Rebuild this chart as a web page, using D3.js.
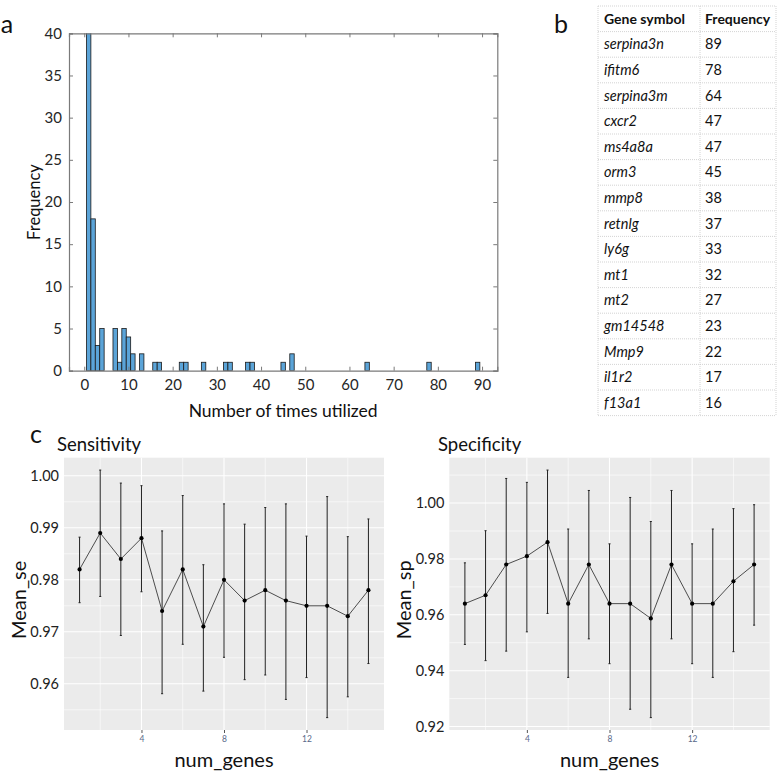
<!DOCTYPE html>
<html><head><meta charset="utf-8">
<script src="https://cdn.jsdelivr.net/npm/d3@7"></script>
<style>
html,body{margin:0;padding:0;background:#fff;}
svg text{font-family:Lato,"Open Sans",sans-serif;}
</style></head>
<body>
<svg id="fig" width="777" height="776"></svg>
<script>
// ---------- Panel a: histogram ----------
const histValues = [1,2,3,4,7,8,9,10,11,13,16,17,22,23,27,32,33,37,38,45,47,64,78,89];
const histCounts = [63,18,3,5,5,1,5,4,2,2,1,1,1,1,1,1,1,1,1,1,2,1,1,1];
const histXTicks = [0,10,20,30,40,50,60,70,80,90];
const histYTicks = [0,5,10,15,20,25,30,35,40];

// ---------- Panel b: table ----------
const geneSymbols = ["serpina3n","ifitm6","serpina3m","cxcr2","ms4a8a","orm3","mmp8","retnlg","ly6g","mt1","mt2","gm14548","Mmp9","il1r2","f13a1"];
const geneFreqs = [89,78,64,47,47,45,38,37,33,32,27,23,22,17,16];

// ---------- Panel c ----------
const numGenes = [1,2,3,4,5,6,7,8,9,10,11,12,13,14,15];
const meanSe = [0.982,0.989,0.984,0.988,0.974,0.982,0.971,0.980,0.976,0.978,0.976,0.975,0.975,0.973,0.978];
const seLow  = [0.9756,0.9768,0.9693,0.9777,0.9581,0.9676,0.9586,0.9651,0.9608,0.9617,0.9570,0.9612,0.9535,0.9575,0.9639];
const seHigh = [0.9882,1.0011,0.9986,0.9981,0.9894,0.9962,0.9829,0.9946,0.9907,0.9939,0.9946,0.9884,0.9960,0.9883,0.9917];
const meanSp = [0.964,0.967,0.978,0.981,0.986,0.964,0.978,0.964,0.964,0.9587,0.978,0.964,0.964,0.972,0.978];
const spLow  = [0.9494,0.9436,0.9470,0.9539,0.9605,0.9376,0.9514,0.9425,0.9262,0.9232,0.9514,0.9425,0.9376,0.9468,0.9563];
const spHigh = [0.9786,0.9901,1.0088,1.0074,1.0118,0.9907,1.0045,0.9854,1.0020,0.9934,1.0045,0.9854,0.9907,0.9980,0.9994];
const seYTicks = [0.96,0.97,0.98,0.99,1.00];
const spYTicks = [0.92,0.94,0.96,0.98,1.00];
const cXTicks = [4,8,12];

const svg = d3.select("#fig");
svg.append("rect").attr("width",777).attr("height",776).attr("fill","#fff");

// ===== Panel a =====
(function(){
  const L=69,R=497.3,T=33.3,B=370.7;
  const x = d3.scaleLinear().domain([-3.45,93.45]).range([L,R]);
  const y = d3.scaleLinear().domain([0,40]).range([B,T]);
  const g = svg.append("g");
  g.append("text").attr("x",7).attr("y",33).attr("font-size",25).attr("text-anchor","middle").attr("fill","#111").text("a");
  g.append("clipPath").attr("id","clipA").append("rect").attr("x",L).attr("y",T).attr("width",R-L).attr("height",B-T);
  const bars = histValues.map((v,i)=>({v,c:histCounts[i]}));
  g.append("g").attr("clip-path","url(#clipA)").selectAll("rect").data(bars).join("rect")
    .attr("x",d=>x(d.v-0.5)).attr("width",d=>x(d.v+0.5)-x(d.v-0.5))
    .attr("y",d=>y(d.c)).attr("height",d=>y(0)-y(d.c))
    .attr("fill","#5ba4d8").attr("stroke","#1a1a1a").attr("stroke-width",0.8);
  const boxCol="#7a7a7a";
  const xb = g.append("g").attr("transform",`translate(0,${B})`).call(d3.axisBottom(x).tickValues(histXTicks).tickSize(-4).tickPadding(9));
  const xt = g.append("g").attr("transform",`translate(0,${T})`).call(d3.axisTop(x).tickValues(histXTicks).tickSize(-4).tickFormat(""));
  const yl = g.append("g").attr("transform",`translate(${L},0)`).call(d3.axisLeft(y).tickValues(histYTicks).tickSize(-4).tickPadding(7));
  const yr = g.append("g").attr("transform",`translate(${R},0)`).call(d3.axisRight(y).tickValues(histYTicks).tickSize(-4).tickFormat(""));
  [xb,xt,yl,yr].forEach(a=>{
    a.select(".domain").attr("stroke",boxCol).attr("stroke-width",1.2);
    a.selectAll(".tick line").attr("stroke",boxCol);
    a.selectAll("text").attr("font-size",15).attr("fill","#262626").attr("font-family","Lato,sans-serif");
  });
  g.append("text").attr("x",(L+R)/2).attr("y",417).attr("text-anchor","middle").attr("font-size",17.5).attr("fill","#111").text("Number of times utilized");
  g.append("text").attr("transform",`translate(40,${(T+B)/2}) rotate(-90)`).attr("text-anchor","middle").attr("font-size",16.5).attr("fill","#111").text("Frequency");
})();

// ===== Panel b =====
(function(){
  const g = svg.append("g");
  g.append("text").attr("x",561).attr("y",33).attr("font-size",25).attr("text-anchor","middle").attr("fill","#111").text("b");
  const left=598,div=700,right=776,top=6,rowH=25.6;
  const nRows = geneSymbols.length+1;
  const yPos = d3.range(nRows+1).map(i=>top+i*rowH);
  const col="#c8c8c8";
  g.selectAll("line.h").data(yPos).join("line").attr("x1",left).attr("x2",right).attr("y1",d=>d).attr("y2",d=>d)
    .attr("stroke",col).attr("stroke-width",0.8).attr("stroke-dasharray","1,1");
  [left,div,right].forEach(xv=>{
    g.append("line").attr("x1",xv).attr("x2",xv).attr("y1",top).attr("y2",yPos[nRows]).attr("stroke",col).attr("stroke-width",0.8).attr("stroke-dasharray","1,1");
  });
  g.append("text").attr("x",604).attr("y",top+rowH/2+5).attr("font-size",14).attr("font-weight","bold").attr("fill","#111").text("Gene symbol");
  g.append("text").attr("x",705).attr("y",top+rowH/2+5).attr("font-size",14).attr("font-weight","bold").attr("fill","#111").text("Frequency");
  g.selectAll("text.gene").data(geneSymbols).join("text").attr("class","gene")
    .attr("x",604).attr("y",(d,i)=>top+(i+1)*rowH+rowH/2+5).attr("font-size",14.5).attr("font-style","italic").attr("fill","#111").text(d=>d);
  g.selectAll("text.freq").data(geneFreqs).join("text").attr("class","freq")
    .attr("x",705).attr("y",(d,i)=>top+(i+1)*rowH+rowH/2+5).attr("font-size",14.5).attr("fill","#111").text(d=>d);
})();

// ===== Panel c =====
svg.append("text").attr("x",36).attr("y",443).attr("font-size",25).attr("text-anchor","middle").attr("fill","#111").text("c");

function ggPanel(opts){
  const {L,R,T,B,title,titleX,ylab,mean,lo,hi,yTicks,minorY} = opts;
  const g = svg.append("g");
  const xmin = d3.min(numGenes)-0.05, xmax = d3.max(numGenes)+0.05;
  const xr = xmax-xmin;
  const x = d3.scaleLinear().domain([xmin-0.05*xr,xmax+0.05*xr]).range([L,R]);
  const ymin = d3.min(lo), ymax = d3.max(hi), yr = ymax-ymin;
  const y = d3.scaleLinear().domain([ymin-0.05*yr,ymax+0.05*yr]).range([B,T]);
  g.append("rect").attr("x",L).attr("y",T).attr("width",R-L).attr("height",B-T).attr("fill","#ebebeb");
  const minorX = [2,6,10,14];
  g.selectAll("line.mny").data(minorY).join("line").attr("x1",L).attr("x2",R).attr("y1",d=>y(d)).attr("y2",d=>y(d)).attr("stroke","#fff").attr("stroke-width",0.6);
  g.selectAll("line.mnx").data(minorX).join("line").attr("x1",d=>x(d)).attr("x2",d=>x(d)).attr("y1",T).attr("y2",B).attr("stroke","#fff").attr("stroke-width",0.6);
  g.selectAll("line.mjy").data(yTicks).join("line").attr("x1",L).attr("x2",R).attr("y1",d=>y(d)).attr("y2",d=>y(d)).attr("stroke","#fff").attr("stroke-width",1.1);
  g.selectAll("line.mjx").data(cXTicks).join("line").attr("x1",d=>x(d)).attr("x2",d=>x(d)).attr("y1",T).attr("y2",B).attr("stroke","#fff").attr("stroke-width",1.1);
  const ax = g.append("g").attr("transform",`translate(0,${B})`).call(d3.axisBottom(x).tickValues(cXTicks).tickSize(3).tickPadding(3));
  ax.select(".domain").remove();
  ax.selectAll(".tick line").attr("stroke","#555");
  ax.selectAll("text").attr("font-size",8.5).attr("fill","#5a6a8a").attr("font-family","Lato,sans-serif");
  const ay = g.append("g").attr("transform",`translate(${L},0)`).call(d3.axisLeft(y).tickValues(yTicks).tickSize(0).tickPadding(5).tickFormat(d3.format(".2f")));
  ay.select(".domain").remove();
  ay.selectAll("text").attr("font-size",14.5).attr("fill","#222").attr("font-family","Lato,sans-serif");
  const pts = numGenes.map((n,i)=>({n,m:mean[i],lo:lo[i],hi:hi[i]}));
  g.append("path").datum(pts).attr("d",d3.line().x(d=>x(d.n)).y(d=>y(d.m))).attr("fill","none").attr("stroke","#3a3a3a").attr("stroke-width",0.9);
  const eb = g.append("g").selectAll("g").data(pts).join("g");
  eb.append("line").attr("x1",d=>x(d.n)).attr("x2",d=>x(d.n)).attr("y1",d=>y(d.lo)).attr("y2",d=>y(d.hi)).attr("stroke","#222").attr("stroke-width",1);
  eb.append("line").attr("x1",d=>x(d.n-0.05)).attr("x2",d=>x(d.n+0.05)).attr("y1",d=>y(d.lo)).attr("y2",d=>y(d.lo)).attr("stroke","#222").attr("stroke-width",1);
  eb.append("line").attr("x1",d=>x(d.n-0.05)).attr("x2",d=>x(d.n+0.05)).attr("y1",d=>y(d.hi)).attr("y2",d=>y(d.hi)).attr("stroke","#222").attr("stroke-width",1);
  eb.append("circle").attr("cx",d=>x(d.n)).attr("cy",d=>y(d.m)).attr("r",2.1).attr("fill","#000");
  g.append("text").attr("x",titleX).attr("y",451).attr("font-size",18.5).attr("fill","#111").text(title);
  g.append("text").attr("x",(L+R)/2).attr("y",767).attr("text-anchor","middle").attr("font-size",20).attr("fill","#111").text("num_genes");
  g.append("text").attr("transform",`translate(${L-38},${(T+B)/2+6}) rotate(-90)`).attr("text-anchor","middle").attr("font-size",20).attr("fill","#111").text(ylab);
}

ggPanel({L:64,R:384,T:457.7,B:730,title:"Sensitivity",titleX:57,ylab:"Mean_se",
  mean:meanSe,lo:seLow,hi:seHigh,yTicks:seYTicks,minorY:[0.955,0.965,0.975,0.985,0.995]});
ggPanel({L:449.3,R:769.7,T:457.7,B:730,title:"Specificity",titleX:438,ylab:"Mean_sp",
  mean:meanSp,lo:spLow,hi:spHigh,yTicks:spYTicks,minorY:[0.93,0.95,0.97,0.99,1.01]});
</script>
</body></html>
